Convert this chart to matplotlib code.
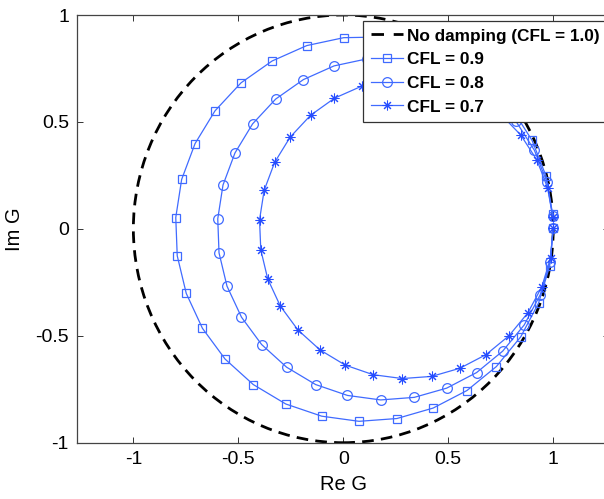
import matplotlib
matplotlib.use("Agg")
import matplotlib.pyplot as plt
from matplotlib.patches import Circle
from matplotlib.lines import Line2D

plt.rcParams['font.family'] = ['Liberation Sans', 'DejaVu Sans']

# Data
ref_center = (0.0, 0.0)
ref_radius = 1.0
ref_label = "No damping (CFL = 1.0)"

x09 = [0.997, 0.966, 0.899, 0.801, 0.675, 0.525, 0.359, 0.182, 0.002, -0.174, -0.339, -0.487,
       -0.611, -0.706, -0.770, -0.798, -0.791, -0.748, -0.671, -0.563, -0.429, -0.274, -0.103,
       0.075, 0.255, 0.428, 0.589, 0.729, 0.845, 0.930, 0.983, 1.000]
y09 = [0.069, 0.246, 0.414, 0.565, 0.693, 0.793, 0.862, 0.897, 0.894, 0.857, 0.785, 0.683,
       0.552, 0.399, 0.231, 0.053, -0.126, -0.302, -0.465, -0.609, -0.728, -0.819, -0.876,
       -0.900, -0.887, -0.838, -0.756, -0.644, -0.505, -0.347, -0.174, 0.005]
x08 = [0.997, 0.970, 0.910, 0.823, 0.711, 0.578, 0.430, 0.273, 0.113, -0.044, -0.190, -0.322,
       -0.432, -0.516, -0.573, -0.598, -0.592, -0.554, -0.485, -0.389, -0.270, -0.132, 0.020,
       0.178, 0.338, 0.492, 0.635, 0.759, 0.862, 0.938, 0.985, 1.000]
y08 = [0.061, 0.219, 0.368, 0.502, 0.616, 0.705, 0.766, 0.797, 0.795, 0.762, 0.698, 0.607,
       0.491, 0.355, 0.205, 0.047, -0.112, -0.268, -0.413, -0.541, -0.647, -0.728, -0.779,
       -0.800, -0.788, -0.745, -0.672, -0.572, -0.449, -0.308, -0.155, 0.004]
x07 = [0.998, 0.973, 0.922, 0.845, 0.747, 0.631, 0.501, 0.364, 0.224, 0.087, -0.042, -0.156,
       -0.253, -0.327, -0.377, -0.399, -0.393, -0.360, -0.300, -0.216, -0.111, 0.009, 0.142,
       0.281, 0.421, 0.555, 0.680, 0.789, 0.879, 0.946, 0.987, 1.000]
y07 = [0.054, 0.192, 0.322, 0.439, 0.539, 0.617, 0.670, 0.697, 0.696, 0.667, 0.611, 0.531,
       0.429, 0.311, 0.180, 0.042, -0.098, -0.234, -0.361, -0.473, -0.566, -0.637, -0.682,
       -0.700, -0.690, -0.652, -0.588, -0.500, -0.393, -0.270, -0.136, 0.003]
series_labels = ["CFL = 0.9", "CFL = 0.8", "CFL = 0.7"]

xticks = [-1, -0.5, 0, 0.5, 1]
yticks = [-1, -0.5, 0, 0.5, 1]
xtick_labels = ["-1", "-0.5", "0", "0.5", "1"]
ytick_labels = ["-1", "-0.5", "0", "0.5", "1"]

W, H = 604, 499
fig = plt.figure(figsize=(W / 100, H / 100), dpi=100)
ax = fig.add_axes([77.3 / W, 56.3 / H, 532 / W, 427.7 / H])

blue = (0.25, 0.42, 1.0)
dash = (0, (4.2, 2.6))

circ = Circle(ref_center, ref_radius, fill=False, edgecolor='black', linewidth=2.0,
              linestyle=dash, zorder=2)
ax.add_patch(circ)
ref_handle = Line2D([], [], color='black', linewidth=2.0, linestyle=(0, (4.5, 3.5)))

h1, = ax.plot(x09, y09, color=blue, linewidth=0.9, marker='s', markersize=6,
              markerfacecolor='none', markeredgecolor=blue, markeredgewidth=0.9, zorder=3)
h2, = ax.plot(x08, y08, color=blue, linewidth=0.9, marker='o', markersize=7,
              markerfacecolor='none', markeredgecolor=blue, markeredgewidth=0.9, zorder=3)
h3, = ax.plot(x07, y07, color=blue, linewidth=0.9, marker=(8, 2, 0), markersize=7,
              markeredgecolor=(0.15, 0.3, 1.0), markeredgewidth=0.75, zorder=3)

ax.set_xlim(-1.267, 1.267)
ax.set_ylim(-1, 1)
ax.set_xticks(xticks)
ax.set_xticklabels(xtick_labels)
ax.set_yticks(yticks)
ax.set_yticklabels(ytick_labels)
ax.tick_params(direction='in', length=4, width=0.7, top=True, right=True,
               labelsize=14, pad=6, colors='#333333', labelcolor='black')
for s in ax.spines.values():
    s.set_linewidth(0.9)
    s.set_color('#444444')

ax.set_xlabel("Re G", fontsize=14.5, labelpad=5)
ax.set_ylabel("Im G", fontsize=14.5, labelpad=8)

leg = ax.legend([ref_handle, h1, h2, h3], [ref_label] + series_labels,
                loc='upper left', bbox_to_anchor=(363 / W, 1 - 20.7 / H),
                bbox_transform=fig.transFigure, borderaxespad=0,
                prop={'weight': 'bold', 'size': 12.4}, handlelength=1.9,
                handletextpad=0.2, borderpad=0.45, labelspacing=0.5,
                fancybox=False, framealpha=1, edgecolor='#333333')
leg.get_frame().set_linewidth(0.9)

fig.savefig("out.png", dpi=100)
